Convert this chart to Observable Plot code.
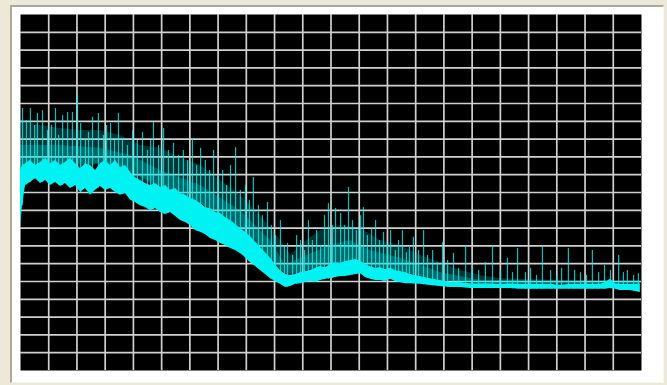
<!DOCTYPE html>
<html>
<head>
<meta charset="utf-8">
<script src="https://cdn.jsdelivr.net/npm/d3@7"></script>
<script src="https://cdn.jsdelivr.net/npm/@observablehq/plot@0.6"></script>
<style>
  html, body { margin: 0; padding: 0; background: #ECE9D8; width: 667px; height: 385px; overflow: hidden; }
  #box { position: absolute; left: 10px; top: 5px; width: 651px; height: 375px;
         background: #fff; border-top: 2px solid #ACA899; border-left: 2px solid #ACA899;
         border-right: 1px solid #F6F5EE; border-bottom: 1px solid #F6F5EE; }
  #chart { position: absolute; left: 0; top: 0; }
</style>
</head>
<body>
<div id="box"></div>
<div id="chart"></div>
<script>
// Sample index (0..2200) and signal level (0..100)
const bandX = [0,7,18,35,53,71,89,106,124,142,159,177,195,213,230,248,266,283,301,319,337,354,372,390,407,425,443,461,478,496,514,531,549,567,585,602,620,638,655,673,691,709,726,744,762,779,797,815,833,850,868,886,903,921,939,957,974,992,1010,1027,1045,1063,1081,1098,1116,1134,1151,1169,1187,1205,1222,1240,1258,1275,1293,1311,1328,1346,1364,1382,1417,1453,1488,1523,1559,1594,1630,1665,1700,1736,1771,1807,1842,1878,1913,1948,1984,2019,2055,2073,2090,2108,2126,2161,2196];
const bandHigh = [56.2,57.6,58.1,59.0,57.6,58.4,59.6,58.1,59.0,57.6,58.4,59.6,58.1,56.7,58.1,57.6,56.2,58.1,59.0,57.6,59.0,57.0,57.6,55.6,54.2,53.4,52.5,52.0,52.5,51.4,52.0,50.6,51.1,49.7,49.2,48.3,47.8,46.9,45.8,45.5,44.4,44.1,43.0,42.1,41.0,39.9,38.8,37.6,36.0,34.6,33.1,31.5,29.8,28.1,27.0,26.7,27.0,27.5,27.8,28.1,28.7,29.2,28.9,29.8,30.3,30.1,30.6,30.9,31.2,30.6,29.8,29.2,28.7,28.9,28.4,28.7,28.1,27.8,27.5,27.0,26.4,25.8,25.3,24.7,24.7,24.4,24.4,24.4,24.2,24.4,24.2,24.2,24.2,24.2,23.9,24.2,24.2,24.2,24.2,24.7,25.6,24.4,24.2,24.2,24.4];
const bandLow = [39.9,46.3,52.0,52.8,53.9,52.5,53.4,52.0,52.8,51.7,52.5,51.1,52.0,50.0,51.1,49.2,50.6,51.7,50.6,51.1,50.0,49.2,49.7,47.8,47.2,46.3,45.8,44.9,45.5,44.4,43.8,44.4,43.3,42.1,41.6,40.7,39.3,38.8,38.2,37.1,36.5,35.7,35.1,34.3,33.7,32.9,31.7,30.3,29.2,28.1,27.0,25.8,25.0,24.2,23.3,23.6,24.2,24.4,24.7,25.0,24.7,25.3,25.6,25.8,26.1,26.4,26.4,26.7,27.0,27.2,26.1,25.6,25.3,25.3,25.0,25.6,25.0,24.7,24.4,24.4,24.2,23.9,23.6,23.3,23.3,23.0,23.0,23.0,23.0,23.0,22.8,22.8,22.8,22.8,22.8,22.8,22.8,22.8,22.8,22.8,23.0,22.8,22.5,22.5,21.9];

// outer (sparse) and inner (dense) spike envelopes
const hazeX = [0,71,142,213,283,354,425,496,567,638,709,779,850,921,957,992,1063,1134,1205,1275,1346,1417,1488,1559,1630,1700,1913,2196];
const hazeTop = [70.2,68.8,68.0,67.4,67.4,66.0,63.2,62.4,59.6,57.6,53.4,49.2,43.5,36.5,32.3,35.1,39.3,40.7,39.9,36.5,35.1,32.3,30.3,28.1,26.7,25.8,25.3,25.3];
const innerX = [0,142,283,390,496,638,779,886,939,992,1098,1169,1240,1346,1488,1630,2196];
const innerTop = [63.2,63.2,62.4,60.4,56.2,52.0,44.9,36.5,29.5,31.5,35.1,36.5,33.7,31.5,27.5,25.3,24.7];

const spikeX = [7,21,35,50,60,78,96,110,124,135,149,167,184,202,213,230,241,255,276,294,305,319,333,347,361,379,397,414,432,450,461,471,489,507,524,542,560,577,592,609,624,638,655,670,684,701,716,730,744,762,779,797,811,825,843,857,875,889,903,921,935,946,964,978,992,1006,1020,1034,1049,1063,1077,1091,1105,1116,1134,1148,1162,1176,1190,1205,1215,1229,1244,1258,1272,1286,1300,1311,1328,1339,1353,1367,1378,1392,1410,1428,1442,1460,1477,1495,1513,1534,1552,1577,1601,1623,1647,1672,1700,1725,1743,1761,1789,1807,1828,1849,1878,1899,1917,1941,1963,1984,2005,2026,2048,2069,2090,2119,2136,2150,2172,2189];
const spikeTop = [73.6,70.2,73.6,68.8,72.2,73.0,67.4,68.8,73.6,66.0,71.6,72.5,72.5,77.2,69.4,64.6,66.9,71.1,72.2,66.0,68.8,69.4,64.6,72.2,65.2,63.2,67.4,64.6,66.9,61.8,64.6,69.7,63.2,68.0,61.8,63.8,60.4,61.8,59.0,65.2,57.6,62.4,59.0,56.2,61.8,54.8,56.2,52.0,57.6,62.6,50.6,52.0,47.8,54.2,46.3,43.5,47.2,40.7,37.9,42.1,35.1,35.7,32.3,37.9,36.5,33.7,42.1,36.5,39.3,35.1,43.5,46.9,40.7,45.5,44.1,40.7,51.4,42.1,39.3,43.5,45.8,37.9,39.9,42.1,36.5,38.8,35.1,39.3,33.7,36.5,39.3,33.1,35.1,37.4,33.7,39.3,32.3,33.7,30.3,36.0,30.9,32.9,28.7,35.1,29.5,28.1,30.3,35.1,28.1,31.5,27.5,34.3,27.5,28.7,26.7,34.6,28.1,26.7,28.7,34.3,28.1,27.5,26.7,33.7,27.5,29.5,28.1,32.3,27.5,28.1,26.7,27.2];

const xGrid = [100,200,300,400,500,600,700,800,900,1000,1100,1200,1300,1400,1500,1600,1700,1800,1900,2000,2100];
const yGrid = [5,10,15,20,25,30,35,40,45,50,55,60,65,70,75,80,85,90,95];

function interp(xs, ys, x) {
  const i = d3.bisectRight(xs, x);
  if (i <= 0) return ys[0];
  if (i >= xs.length) return ys[ys.length - 1];
  const t = (x - xs[i - 1]) / (xs[i] - xs[i - 1]);
  return ys[i - 1] + t * (ys[i] - ys[i - 1]);
}

const band = bandX.map((x, i) => ({x, low: bandLow[i], high: bandHigh[i]}));
const haze = hazeX.map((x, i) => ({x, base: interp(bandX, bandHigh, x), top: hazeTop[i]}));
const inner = innerX.map((x, i) => ({x, base: interp(bandX, bandHigh, x), top: innerTop[i]}));
const spikes = spikeX.map((x, i) => ({x, base: interp(bandX, bandLow, x), top: spikeTop[i]}));

const chart = Plot.plot({
  width: 667,
  height: 385,
  marginLeft: 20,
  marginRight: 26,
  marginTop: 14,
  marginBottom: 15,
  style: {background: "transparent"},
  x: {domain: [0, 2200], axis: null},
  y: {domain: [0, 100], axis: null},
  marks: [
    Plot.frame({fill: "#000", stroke: null}),
    Plot.ruleX(xGrid, {stroke: "#d0d0d0", strokeWidth: 1.7}),
    Plot.ruleY(yGrid, {stroke: "#d0d0d0", strokeWidth: 1.7}),
    Plot.areaY(haze, {x: "x", y1: "base", y2: "top", fill: "#00e6e6", fillOpacity: 0.22}),
    Plot.areaY(inner, {x: "x", y1: "base", y2: "top", fill: "#00e6e6", fillOpacity: 0.3}),
    Plot.ruleX(spikes, {x: "x", y1: "base", y2: "top", stroke: "#00f0f0", strokeOpacity: 0.8, strokeWidth: 1.2}),
    Plot.areaY(band, {x: "x", y1: "low", y2: "high", fill: "#00f2f2"})
  ]
});
document.getElementById("chart").appendChild(chart);
</script>
</body>
</html>
